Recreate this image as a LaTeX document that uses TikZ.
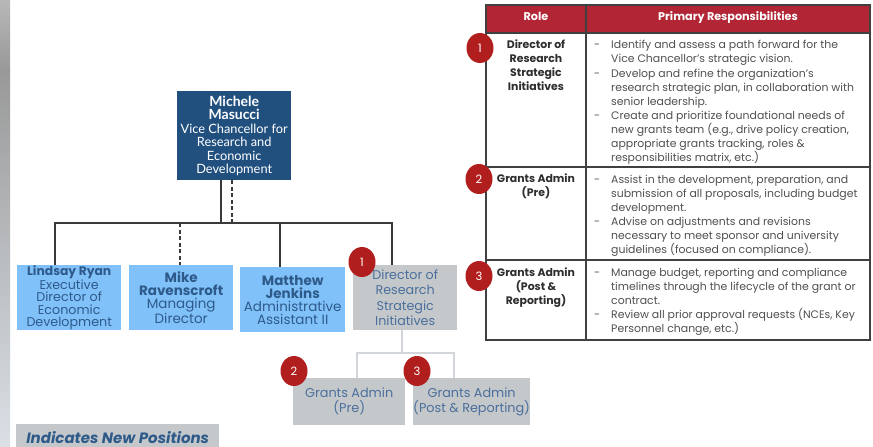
\documentclass[tikz,border=0pt]{standalone}
\usepackage{fontspec}
\usetikzlibrary{shapes.geometric}
\setmainfont{Poppins}
\newfontfamily\lato{Lato}
\definecolor{navy}{HTML}{21507F}
\definecolor{lblue}{HTML}{80C1FA}
\definecolor{gbox}{HTML}{C5C8CB}
\definecolor{badgered}{HTML}{B01F1E}
\definecolor{hdrred}{HTML}{B22535}
\definecolor{btext}{HTML}{2E5A8A}
\definecolor{gtext}{HTML}{4A6F9C}
\definecolor{ttext}{HTML}{2E2E2E}
\definecolor{rtext}{HTML}{505050}
\definecolor{conn}{HTML}{3A3A3A}
\definecolor{lconn}{HTML}{D2D6DA}
\newcommand{\nmA}[1]{{\fontsize{13.5}{14.5}\selectfont\bfseries #1}}
\newcommand{\nmB}[1]{{\fontsize{14}{13.5}\selectfont\bfseries #1}}
\newcommand{\fs}{\rule{0pt}{12pt}}
\tikzset{
  orgbox/.style={anchor=north west, inner sep=0pt, align=center},
  bluebox/.style={orgbox, fill=lblue, text=btext},
  graybox/.style={orgbox, fill=gbox, text=gtext},
  badge/.style={ellipse, fill=badgered, text=white, inner sep=0pt, minimum width=27pt, minimum height=30pt, font=\fontsize{11.5}{12}\selectfont},
  connline/.style={draw=conn, line width=1.3pt},
  lightline/.style={draw=lconn, line width=1.3pt},
  tline/.style={draw=rtext!80!black, line width=1.2pt},
  roletxt/.style={anchor=north, yshift=12pt, align=center, inner sep=0pt, text=ttext, font=\fontsize{10.9}{14.2}\selectfont\bfseries},
  resptxt/.style={anchor=north west, yshift=12pt, align=left, inner sep=0pt, text=rtext, font=\fontsize{10.9}{14.2}\selectfont},
  dashtxt/.style={anchor=base, inner sep=0pt, text=rtext, font=\fontsize{10.9}{14.2}\selectfont},
  hdrtxt/.style={anchor=base, inner sep=0pt, text=white, font=\fontsize{11.2}{12}\selectfont\bfseries},
}
\begin{document}
\begin{tikzpicture}[x=1pt,y=-1pt]
\useasboundingbox (0,0) rectangle (873,447);
\fill[white] (0,0) rectangle (873,447);
% left gradient strip
\shade[top color=black!28, bottom color=black!40] (0,0) rectangle (10,70);
\shade[top color=black!40, bottom color={rgb,255:red,218;green,224;blue,229}] (0,70) rectangle (10,447);

% ---------- org chart ----------
\node[orgbox, fill=navy, text=white, minimum width=114pt, minimum height=89pt,
  font=\lato\fontsize{12.8}{13.5}\selectfont] (michele) at (177,91)
  {\nmB{Michele}\\\nmB{Masucci}\\Vice Chancellor for\\Research and\\Economic\\Development};

\node[bluebox, minimum width=104pt, minimum height=65pt, font=\fontsize{12.7}{12.3}\selectfont] (lindsay) at (17,265)
  {{\fontsize{12.3}{12.3}\selectfont\bfseries Lindsay Ryan}\\Executive\\Director of\\Economic\\Development};
\node[bluebox, minimum width=104pt, minimum height=65pt, font=\fontsize{13.5}{13}\selectfont] (mike) at (129,265)
  {\nmA{Mike}\\\nmA{Ravenscroft}\\Managing\\Director};
\node[bluebox, minimum width=105pt, minimum height=65pt, font=\fontsize{13.5}{13}\selectfont] (matthew) at (240,267)
  {\nmA{Matthew}\\\nmA{Jenkins}\\Administrative\\Assistant II};
\node[graybox, minimum width=104pt, minimum height=65pt, font=\fontsize{12.7}{15.5}\selectfont] (director) at (353,265)
  {Director of\\Research\\Strategic\\Initiatives};
\node[graybox, minimum width=112pt, minimum height=47pt, font=\fontsize{12.8}{15}\selectfont] (pre) at (293,378)
  {Grants Admin\\(Pre)};
\node[graybox, minimum width=112pt, minimum height=47pt, font=\fontsize{12.8}{15}\selectfont] (post) at (413,378)
  {Grants Admin\\(Post \& Reporting)};
\node[orgbox, fill=gbox, text=btext, minimum width=203pt, minimum height=26pt, font=\fontsize{15}{16}\selectfont\bfseries\itshape] (legend) at (16,424)
  {\raisebox{-3pt}{Indicates New Positions}};

% connectors
\coordinate (jl) at (55,223);
\coordinate (jr) at (392,223);
\coordinate (js) at (221,223);
\coordinate (jd) at (232,223);
\coordinate (jm) at (180,223);
\coordinate (jt) at (280,223);
\draw[connline] (michele.south -| js) -- (js);
\draw[connline, dash pattern=on 4pt off 2.5pt] (michele.south -| jd) -- (jd);
\draw[connline] (lindsay.north -| jl) -- (jl) -- (jr) -- (director.north -| jr);
\draw[connline, dash pattern=on 4pt off 2.5pt] (jm) -- (mike.north -| jm);
\draw[connline] (jt) -- (matthew.north -| jt);

\coordinate (ds) at (402,353);
\coordinate (dl) at (357,353);
\coordinate (dr) at (454,353);
\draw[lightline] (director.south -| ds) -- (ds);
\draw[lightline] (pre.north -| dl) -- (dl) -- (dr) -- (post.north -| dr);

\node[badge] (b1) at (362,262) {1};
\node[badge] (b2) at (294,371) {2};
\node[badge] (b3) at (417,371) {3};

% ---------- table ----------
\fill[hdrred] (486,5) rectangle (870,33);
\draw[tline] (486,5) rectangle (870,340);
\draw[tline] (486,33) -- (870,33);
\draw[tline] (486,167) -- (870,167);
\draw[tline] (486,260) -- (870,260);
\draw[tline] (586,5) -- (586,340);

\node[hdrtxt] (hrole) at (536,20) {Role};
\node[hdrtxt] (hresp) at (728,20) {Primary Responsibilities};

\node[roletxt] (r1) at (536,48) {\fs Director of\\Research\\Strategic\\Initiatives};
\node[roletxt] (r2) at (536,182) {\fs Grants Admin\\(Pre)};
\node[roletxt] (r3) at (536,276) {\fs Grants Admin\\(Post \&\\Reporting)};

\node[dashtxt] (d11) at (597,48) {-};
\node[resptxt] (p11) at (611,48) {\fs Identify and assess a path forward for the\\Vice Chancellor’s strategic vision.};
\node[dashtxt] (d12) at (597,77) {-};
\node[resptxt] (p12) at (611,77) {\fs Develop and refine the organization’s\\research strategic plan, in collaboration with\\senior leadership.};
\node[dashtxt] (d13) at (597,119) {-};
\node[resptxt] (p13) at (611,119) {\fs Create and prioritize foundational needs of\\new grants team (e.g., drive policy creation,\\appropriate grants tracking, roles \&\\responsibilities matrix, etc.)};

\node[dashtxt] (d21) at (597,183) {-};
\node[resptxt] (p21) at (611,183) {\fs Assist in the development, preparation, and\\submission of all proposals, including budget\\development.};
\node[dashtxt] (d22) at (597,225) {-};
\node[resptxt] (p22) at (611,225) {\fs Advise on adjustments and revisions\\necessary to meet sponsor and university\\guidelines (focused on compliance).};

\node[dashtxt] (d31) at (597,276) {-};
\node[resptxt] (p31) at (611,276) {\fs Manage budget, reporting and compliance\\timelines through the lifecycle of the grant or\\contract.};
\node[dashtxt] (d32) at (597,318) {-};
\node[resptxt] (p32) at (611,318) {\fs Review all prior approval requests (NCEs, Key\\Personnel change, etc.)};

\node[badge] (t1) at (480,48) {1};
\node[badge] (t2) at (479,179) {2};
\node[badge] (t3) at (479,276) {3};
\end{tikzpicture}
\end{document}
